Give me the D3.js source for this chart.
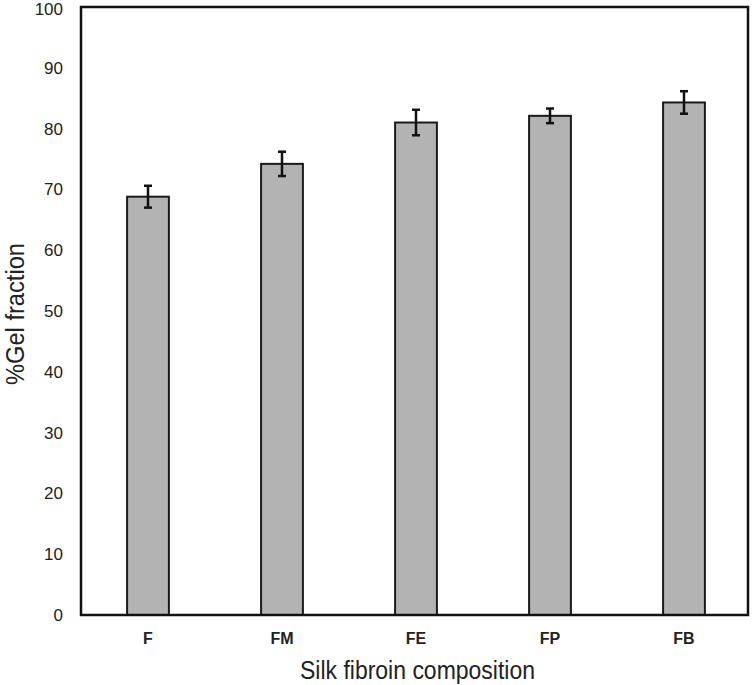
<!DOCTYPE html>
<html><head><meta charset="utf-8">
<script src="https://cdn.jsdelivr.net/npm/d3@7"></script>
<style>body{margin:0;background:#fff}svg{display:block}</style>
</head><body>
<svg id="c" width="756" height="685"></svg>
<script>
const categories = ["F","FM","FE","FP","FB"];
const values = [68.8, 74.2, 81.0, 82.1, 84.3];
const errors = [1.8, 2.0, 2.1, 1.2, 1.85];
const yTicks = [0,10,20,30,40,50,60,70,80,90,100];

const svg = d3.select("#c");
const m = {l:81, r:5, t:7, b:70};
const W = 756, H = 685;
const x = d3.scaleBand().domain(categories).range([m.l, W-m.r]).paddingInner(0.688).paddingOuter(0.344);
const y = d3.scaleLinear().domain([0,100]).range([H-m.b, m.t]);
const font = "Arial, 'Liberation Sans', sans-serif";

// bars
svg.append("g").selectAll("rect").data(values).join("rect")
  .attr("x",(d,i)=>x(categories[i])).attr("width",x.bandwidth())
  .attr("y",d=>y(d)).attr("height",d=>y(0)-y(d))
  .attr("fill","#b3b3b3").attr("stroke","#1a1a1a").attr("stroke-width",2);

// error bars
const eg = svg.append("g").attr("stroke","#111").attr("stroke-width",2.5);
values.forEach((v,i)=>{
  const cx = x(categories[i]) + x.bandwidth()/2;
  eg.append("line").attr("x1",cx).attr("x2",cx).attr("y1",y(v+errors[i])).attr("y2",y(v-errors[i]));
  [v+errors[i], v-errors[i]].forEach(e=>{
    eg.append("line").attr("x1",cx-4).attr("x2",cx+4).attr("y1",y(e)).attr("y2",y(e));
  });
});

// frame
svg.append("rect").attr("x",m.l).attr("y",m.t).attr("width",W-m.r-m.l-3).attr("height",H-m.b-m.t)
  .attr("fill","none").attr("stroke","#111").attr("stroke-width",2.5);

// y axis
const ya = svg.append("g").attr("transform",`translate(${m.l},0)`)
  .call(d3.axisLeft(y).tickValues(yTicks).tickSize(0).tickPadding(18));
ya.select(".domain").remove();
ya.selectAll("text").attr("font-family",font).attr("font-size",17).attr("fill","#222");
ya.selectAll(".tick").filter(d=>d===100).select("text").attr("dy","0.42em");

// x axis
const xa = svg.append("g").attr("transform",`translate(0,${H-m.b})`)
  .call(d3.axisBottom(x).tickSize(0).tickPadding(18));
xa.select(".domain").remove();
xa.selectAll("text").attr("font-family",font).attr("font-size",16).attr("font-weight","bold").attr("fill","#222");

// titles
svg.append("text").attr("x",417.5).attr("y",679).attr("text-anchor","middle")
  .attr("font-family",font).attr("font-size",25).attr("fill","#222")
  .attr("textLength",235).attr("lengthAdjust","spacingAndGlyphs").text("Silk fibroin composition");
svg.append("text").attr("transform",`translate(24,314) rotate(-90)`).attr("text-anchor","middle")
  .attr("font-family",font).attr("font-size",26).attr("fill","#222")
  .attr("textLength",142).attr("lengthAdjust","spacingAndGlyphs").text("%Gel fraction");
</script>
</body></html>
